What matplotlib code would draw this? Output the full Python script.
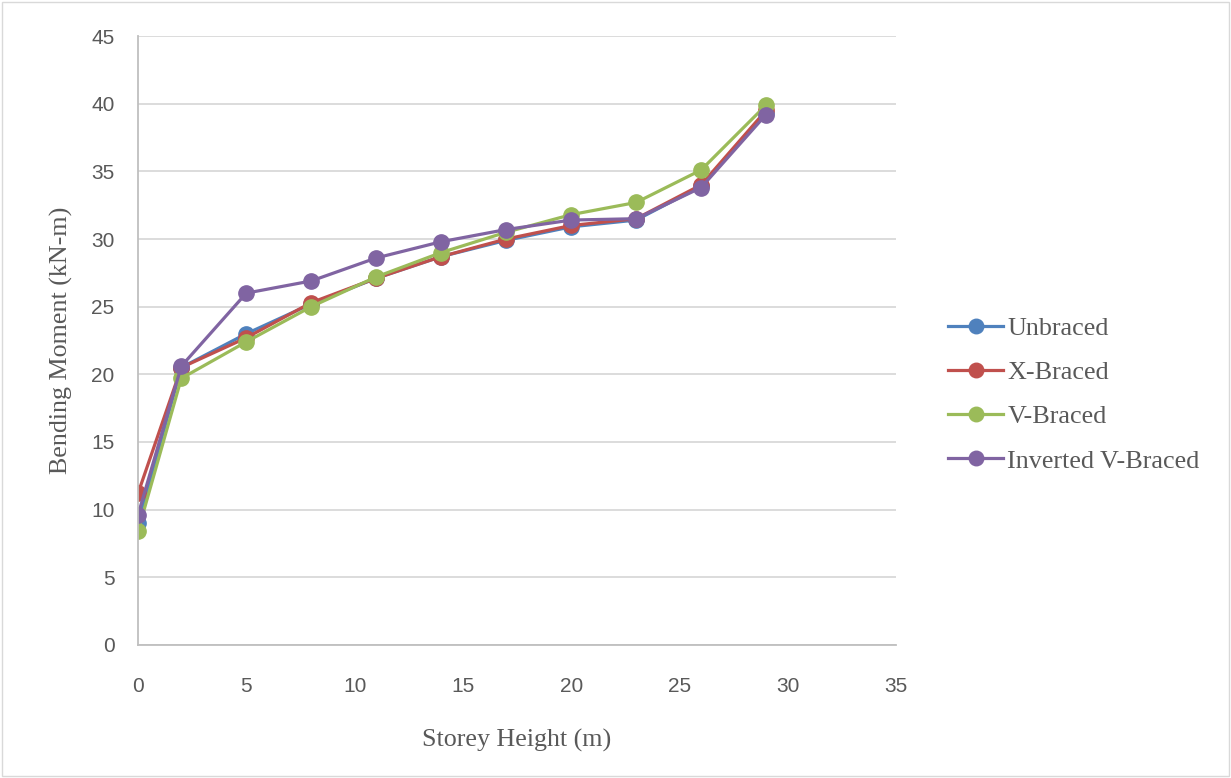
import matplotlib.pyplot as plt
from matplotlib.patches import Rectangle

# storey heights (m) and bending moments (kN-m)
heights = [0, 2, 5, 8, 11, 14, 17, 20, 23, 26, 29]
unbraced = [9.0, 20.5, 23.0, 25.2, 27.1, 28.7, 29.9, 30.9, 31.4, 33.9, 39.3]
xBraced = [11.2, 20.5, 22.7, 25.3, 27.1, 28.7, 30.0, 31.0, 31.5, 34.0, 39.5]
vBraced = [8.4, 19.7, 22.4, 25.0, 27.2, 29.0, 30.5, 31.8, 32.7, 35.1, 39.9]
invVBraced = [9.6, 20.6, 26.0, 26.9, 28.6, 29.8, 30.7, 31.4, 31.5, 33.8, 39.2]

seriesNames = ['Unbraced', 'X-Braced', 'V-Braced', 'Inverted V-Braced']
seriesColors = ['#4F81BD', '#C0504D', '#9BBB59', '#8064A2']

fig = plt.figure(figsize=(12.31, 7.78), dpi=100)
ax = fig.add_axes([0.1121, 0.1710, 0.6158, 0.7827])

for vals, name, col in zip([unbraced, xBraced, vBraced, invVBraced], seriesNames, seriesColors):
    ax.plot(heights, vals, color=col, marker='o', markersize=11, linewidth=2.3, label=name)

ax.set_xlim(0, 35)
ax.set_ylim(0, 45)
ax.set_xticks(range(0, 36, 5))
ax.set_yticks(range(0, 46, 5))
ax.grid(axis='y', color='#D9D9D9', linewidth=1.3)
ax.set_axisbelow(True)
for s in ['top', 'right']:
    ax.spines[s].set_visible(False)
for s in ['left', 'bottom']:
    ax.spines[s].set_color('#BFBFBF')
    ax.spines[s].set_linewidth(1.3)
ax.tick_params(length=0, labelsize=15, labelcolor='#595959', labelfontfamily='Liberation Sans')
ax.tick_params(axis='x', pad=23)
ax.tick_params(axis='y', pad=17)

ax.set_xlabel('Storey Height (m)', fontsize=18.7, family='Liberation Serif', color='#595959', labelpad=24)
ax.set_ylabel('Bending Moment (kN-m)', fontsize=18.7, family='Liberation Serif', color='#595959', labelpad=13)

leg = ax.legend(loc='center left', bbox_to_anchor=(1.038, 0.411), frameon=False,
                prop={'family': 'Liberation Serif', 'size': 18.8}, labelcolor='#595959',
                handlelength=2.1, handletextpad=0.16, labelspacing=0.8, markerscale=0.95)

# light outer frame
fig.patches.append(Rectangle((0.002, 0.002), 0.996, 0.996, transform=fig.transFigure,
                             fill=False, edgecolor='#D9D9D9', linewidth=1))

fig.savefig('out.png', dpi=100)
